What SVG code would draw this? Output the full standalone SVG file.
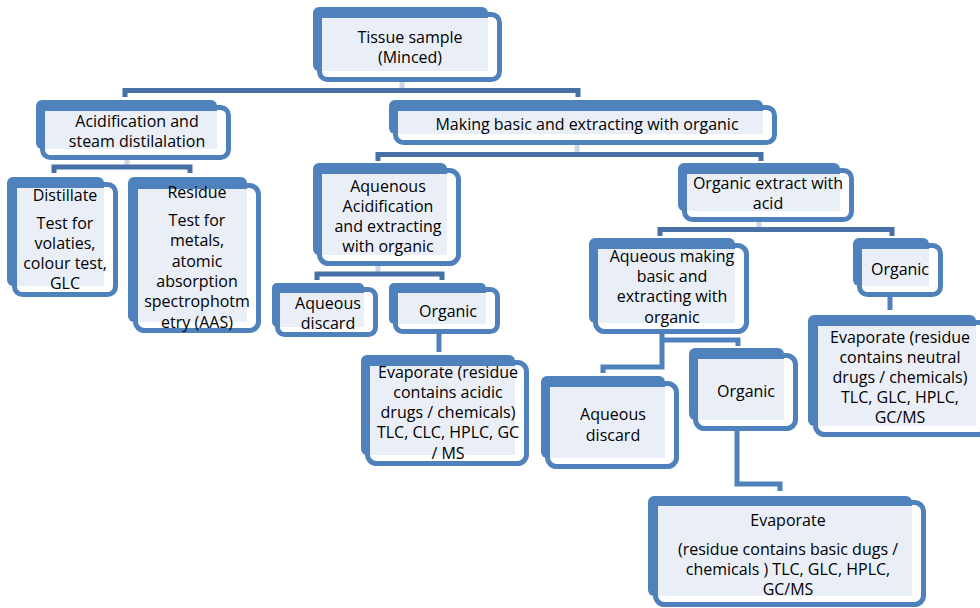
<svg xmlns="http://www.w3.org/2000/svg" width="980" height="608" viewBox="0 0 980 608">
<style>
.frame{fill:#ffffff;stroke:#4f81bd;stroke-width:5}
.back{fill:#4f81bd}
.inner{fill:#eaeff7}
.lbl{font-family:"Open Sans","Liberation Sans",sans-serif;font-size:16px;fill:#000;text-anchor:middle}
.bar{fill:none;stroke:#4770a6;stroke-width:5;stroke-linejoin:miter}
.stub{fill:none;stroke:#c9d6ea;stroke-width:5}
.line{fill:none;stroke:#4f81bd;stroke-width:5}
</style>
<rect width="980" height="608" fill="#ffffff"/>
<g id="connectors">
  <path class="stub" d="M402,80 V88"/>
  <path class="bar" d="M125,97 V90.5 H578 V97"/>
  <path class="stub" d="M127,158 V165"/>
  <path class="bar" d="M54,173 V167 H190 V173"/>
  <path class="stub" d="M577,143 V152"/>
  <path class="bar" d="M378,161 V154.5 H761 V161"/>
  <path class="stub" d="M378,264 V272"/>
  <path class="bar" d="M317,280 V274 H442 V280"/>
  <path class="line" d="M439,332 V352"/>
  <path class="stub" d="M759,220 V227"/>
  <path class="bar" d="M660,236 V229.5 H892 V236"/>
  <path class="line" d="M738,346 V340 H662"/>
  <path class="line" d="M662,332 V367 H603 V373"/>
  <path class="line" d="M737,429 V484 H780 V491"/>
  <path class="line" d="M890,295 V310"/>
</g>
<g id="tissue">
  <rect class="frame" x="319.5" y="14.5" width="180" height="65" rx="8"/>
  <rect class="back" x="313" y="7" width="175" height="64" rx="6"/>
  <rect class="inner" x="322" y="18" width="166" height="53"/>
  <text class="lbl" x="410" y="43">Tissue sample</text>
  <text class="lbl" x="410" y="63">(Minced)</text>
</g>
<g id="acidification">
  <rect class="frame" x="42.5" y="107.5" width="186" height="50" rx="8"/>
  <rect class="back" x="36" y="100" width="181" height="49" rx="6"/>
  <rect class="inner" x="45" y="111" width="172" height="38"/>
  <text class="lbl" x="137" y="127">Acidification and</text>
  <text class="lbl" x="137" y="147">steam distilalation</text>
</g>
<g id="distillate">
  <rect class="frame" x="14.5" y="184.5" width="101" height="110" rx="8"/>
  <rect class="back" x="7" y="177" width="97" height="109" rx="6"/>
  <rect class="inner" x="17" y="188" width="87" height="98"/>
  <text class="lbl" x="65" y="201">Distillate</text>
  <text class="lbl" x="65" y="229">Test for</text>
  <text class="lbl" x="65" y="249">volaties,</text>
  <text class="lbl" x="65" y="269">colour test,</text>
  <text class="lbl" x="65" y="289">GLC</text>
</g>
<g id="residue">
  <rect class="frame" x="135.5" y="185.5" width="123" height="145" rx="9"/>
  <rect class="back" x="128" y="177" width="119" height="145" rx="6"/>
  <rect class="inner" x="138" y="189" width="109" height="133"/>
  <text class="lbl" x="197" y="198">Residue</text>
  <text class="lbl" x="197" y="226">Test for</text>
  <text class="lbl" x="197" y="246">metals,</text>
  <text class="lbl" x="197" y="267">atomic</text>
  <text class="lbl" x="197" y="287">absorption</text>
  <text class="lbl" x="197" y="307">spectrophotm</text>
  <text class="lbl" x="197" y="328">etry (AAS)</text>
</g>
<g id="making-basic">
  <rect class="frame" x="395.5" y="107.5" width="379" height="35" rx="8"/>
  <rect class="back" x="389" y="100" width="374" height="34" rx="6"/>
  <rect class="inner" x="398" y="111" width="365" height="23"/>
  <text class="lbl" x="587" y="130">Making basic and extracting with organic</text>
</g>
<g id="aquenous">
  <rect class="frame" x="319.5" y="170.5" width="139" height="93" rx="9"/>
  <rect class="back" x="313" y="163" width="134" height="92" rx="6"/>
  <rect class="inner" x="322" y="174" width="125" height="81"/>
  <text class="lbl" x="388" y="192">Aquenous</text>
  <text class="lbl" x="388" y="212">Acidification</text>
  <text class="lbl" x="388" y="232">and extracting</text>
  <text class="lbl" x="388" y="252">with organic</text>
</g>
<g id="aqueous-discard-1">
  <rect class="frame" x="277.5" y="289.5" width="98" height="45" rx="7"/>
  <rect class="back" x="272" y="283" width="92" height="44" rx="5"/>
  <rect class="inner" x="280" y="293" width="84" height="34"/>
  <text class="lbl" x="328" y="309">Aqueous</text>
  <text class="lbl" x="328" y="329">discard</text>
</g>
<g id="organic-1">
  <rect class="frame" x="395.5" y="289.5" width="102" height="42" rx="7"/>
  <rect class="back" x="389" y="283" width="97" height="41" rx="5"/>
  <rect class="inner" x="398" y="293" width="88" height="31"/>
  <text class="lbl" x="448" y="317">Organic</text>
</g>
<g id="evaporate-acidic">
  <rect class="frame" x="367.5" y="362.5" width="159" height="101" rx="9"/>
  <rect class="back" x="361" y="355" width="154" height="100" rx="6"/>
  <rect class="inner" x="370" y="366" width="145" height="89"/>
  <text class="lbl" x="448" y="378">Evaporate (residue</text>
  <text class="lbl" x="448" y="398">contains acidic</text>
  <text class="lbl" x="448" y="418">drugs / chemicals)</text>
  <text class="lbl" x="448" y="438">TLC, CLC, HPLC, GC</text>
  <text class="lbl" x="448" y="459">/ MS</text>
</g>
<g id="organic-extract">
  <rect class="frame" x="684.5" y="170.5" width="167" height="49" rx="8"/>
  <rect class="back" x="678" y="163" width="162" height="48" rx="6"/>
  <rect class="inner" x="687" y="174" width="153" height="37"/>
  <text class="lbl" x="768" y="189">Organic extract with</text>
  <text class="lbl" x="768" y="209">acid</text>
</g>
<g id="aqueous-making">
  <rect class="frame" x="595.5" y="245.5" width="151" height="86" rx="9"/>
  <rect class="back" x="589" y="238" width="146" height="85" rx="6"/>
  <rect class="inner" x="598" y="249" width="137" height="74"/>
  <text class="lbl" x="672" y="262">Aqueous making</text>
  <text class="lbl" x="672" y="282">basic and</text>
  <text class="lbl" x="672" y="302">extracting with</text>
  <text class="lbl" x="672" y="323">organic</text>
</g>
<g id="aqueous-discard-2">
  <rect class="frame" x="547.5" y="383.5" width="129" height="83" rx="9"/>
  <rect class="back" x="541" y="376" width="124" height="82" rx="6"/>
  <rect class="inner" x="550" y="387" width="115" height="71"/>
  <text class="lbl" x="613" y="420">Aqueous</text>
  <text class="lbl" x="613" y="441">discard</text>
</g>
<g id="organic-2">
  <rect class="frame" x="695.5" y="355.5" width="100" height="73" rx="9"/>
  <rect class="back" x="689" y="348" width="95" height="72" rx="6"/>
  <rect class="inner" x="698" y="359" width="86" height="61"/>
  <text class="lbl" x="746" y="397">Organic</text>
</g>
<g id="evaporate-basic">
  <rect class="frame" x="655.5" y="502.5" width="268" height="102" rx="9"/>
  <rect class="back" x="648" y="496" width="264" height="100" rx="6"/>
  <rect class="inner" x="658" y="506" width="254" height="90"/>
  <text class="lbl" x="788" y="526">Evaporate</text>
  <text class="lbl" x="788" y="555">(residue contains basic dugs /</text>
  <text class="lbl" x="788" y="575">chemicals ) TLC, GLC, HPLC,</text>
  <text class="lbl" x="788" y="595">GC/MS</text>
</g>
<g id="organic-3">
  <rect class="frame" x="859.5" y="245.5" width="81" height="49" rx="8"/>
  <rect class="back" x="853" y="238" width="76" height="48" rx="6"/>
  <rect class="inner" x="862" y="249" width="67" height="37"/>
  <text class="lbl" x="900" y="275">Organic</text>
</g>
<g id="evaporate-neutral">
  <rect class="frame" x="815.5" y="322.5" width="172" height="112" rx="9"/>
  <rect class="back" x="808" y="315" width="168" height="111" rx="6"/>
  <rect class="inner" x="818" y="326" width="158" height="100"/>
  <text class="lbl" x="900" y="343">Evaporate (residue</text>
  <text class="lbl" x="900" y="363">contains neutral</text>
  <text class="lbl" x="900" y="383">drugs / chemicals)</text>
  <text class="lbl" x="900" y="403">TLC, GLC, HPLC,</text>
  <text class="lbl" x="900" y="423">GC/MS</text>
</g>
</svg>
